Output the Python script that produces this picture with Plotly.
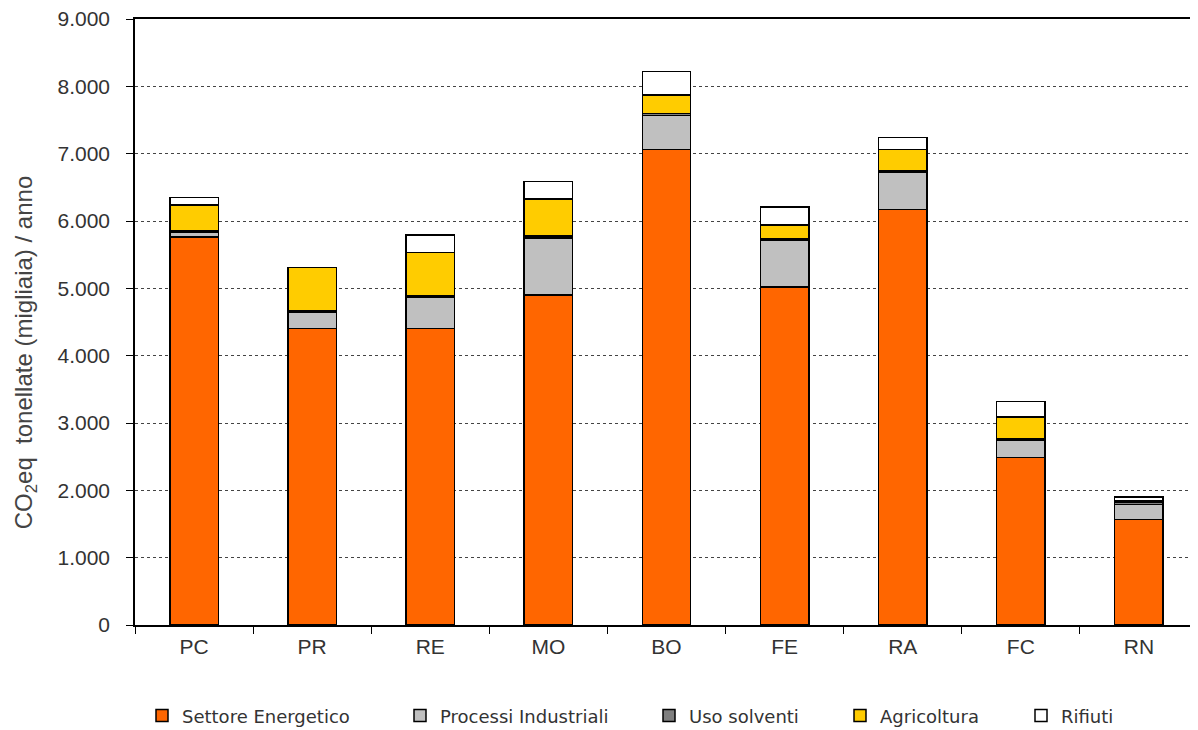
import plotly.graph_objects as go

# province e valori (migliaia di t CO2eq / anno)
province = ["PC", "PR", "RE", "MO", "BO", "FE", "RA", "FC", "RN"]
energetico = [5760, 4400, 4400, 4900, 7060, 5020, 6170, 2490, 1570]
processi = [80, 250, 470, 850, 510, 700, 560, 260, 220]
solventi = [20, 10, 20, 30, 30, 20, 20, 20, 40]
agricoltura = [380, 650, 640, 550, 270, 200, 310, 320, 10]
rifiuti = [110, 0, 260, 260, 350, 270, 180, 230, 60]

serie = [
    ("Settore Energetico", energetico, "#FF6600"),
    ("Processi Industriali", processi, "#C0C0C0"),
    ("Uso solventi", solventi, "#7F7F7F"),
    ("Agricoltura", agricoltura, "#FFCC00"),
    ("Rifiuti", rifiuti, "#FFFFFF"),
]

# posizione orizzontale di ogni voce di legenda (pixel della pagina)
legenda_px = [142, 400, 649, 840, 1021]

# la pagina html aggiunge 8px di margine: la figura è più piccola della finestra
fig = go.Figure()
legende = {}
for i, (nome, valori, colore) in enumerate(serie):
    lid = "legend" if i == 0 else f"legend{i + 1}"
    fig.add_trace(go.Bar(x=province, y=valori, name=nome, legend=lid,
                         marker=dict(color=colore, line=dict(color="black", width=1.5)),
                         width=0.41))
    legende[lid] = dict(orientation="h", x=(legenda_px[i] - 135) / 1063, xanchor="left",
                        y=-0.15, yanchor="middle", itemwidth=30,
                        font=dict(family="DejaVu Sans", size=18, color="#333333"),
                        bgcolor="rgba(0,0,0,0)")

fig.update_layout(
    barmode="stack",
    width=1190, height=722,
    margin=dict(l=127, r=0, t=11, b=105, autoexpand=False),
    plot_bgcolor="white", paper_bgcolor="white",
    separators=",.",
    font=dict(family="Liberation Sans, Arial", size=21, color="#333333"),
    showlegend=True,
    annotations=[dict(text="CO<sub>2</sub>eq  tonellate (migliaia) / anno",
                      xref="paper", yref="paper", x=-(135 - 25) / 1063, y=0.45,
                      xanchor="center", yanchor="middle", textangle=-90, showarrow=False,
                      font=dict(size=24, color="#444444"))],
    **legende,
)
fig.update_yaxes(range=[0, 9000], dtick=1000, tickformat=",.0f",
                 showline=True, linecolor="black", linewidth=1.5,
                 ticks="outside", ticklen=7, tickcolor="black", ticklabelstandoff=12,
                 ticklabeloverflow="allow",
                 showgrid=True, gridcolor="#444444", griddash="dot", gridwidth=1,
                 zeroline=False, tickfont=dict(size=21))
fig.update_xaxes(showline=True, linecolor="black", linewidth=1.5, mirror=True,
                 ticks="outside", tickson="boundaries", ticklen=7, tickcolor="black",
                 ticklabelstandoff=2, tickfont=dict(size=21))

fig.write_html("out.html")
